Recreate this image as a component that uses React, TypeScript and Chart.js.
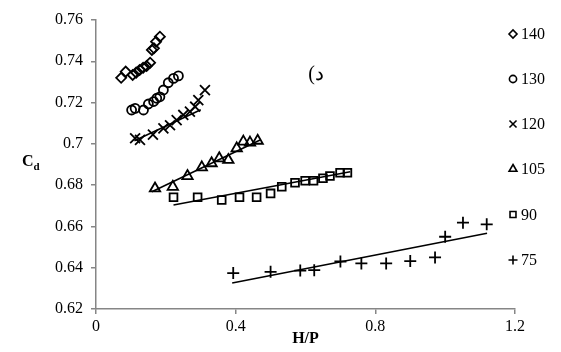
import React, { useEffect, useRef } from 'react';
import { Chart, registerables } from 'chart.js';
import { drawPoint } from 'chart.js/helpers';

Chart.register(...registerables);

const seriesNames = ['140', '130', '120', '105', '90', '75'];
const pointStyles = ['rectRot', 'circle', 'crossRot', 'triangle', 'rect', 'cross'];
const pointSizes = [5, 4.5, 7, 6, 5.5, 6];

const s140X = [0.072, 0.085, 0.105, 0.115, 0.125, 0.135, 0.145, 0.155, 0.16, 0.166, 0.172, 0.183];
const s140Y = [0.732, 0.735, 0.7334, 0.7345, 0.7358, 0.7369, 0.7377, 0.7393, 0.7455, 0.7463, 0.7495, 0.7519];

const s130X = [0.102, 0.112, 0.136, 0.15, 0.165, 0.174, 0.183, 0.193, 0.207, 0.222, 0.236];
const s130Y = [0.7164, 0.7172, 0.7164, 0.7193, 0.7205, 0.7221, 0.7228, 0.7261, 0.7296, 0.7317, 0.7329];

const s120X = [0.112, 0.126, 0.163, 0.193, 0.212, 0.231, 0.25, 0.269, 0.284, 0.293, 0.312];
const s120Y = [0.7027, 0.7019, 0.7045, 0.7075, 0.709, 0.7115, 0.714, 0.7156, 0.718, 0.7212, 0.726];

const s105X = [0.169, 0.22, 0.262, 0.303, 0.331, 0.353, 0.379, 0.403, 0.422, 0.441, 0.463];
const s105Y = [0.6784, 0.6792, 0.6844, 0.6886, 0.6906, 0.693, 0.6922, 0.6978, 0.7011, 0.7006, 0.7015];

const s90X = [0.222, 0.291, 0.36, 0.411, 0.46, 0.5, 0.532, 0.57, 0.599, 0.623, 0.65, 0.67, 0.699, 0.72];
const s90Y = [0.6741, 0.6741, 0.6728, 0.6741, 0.6741, 0.676, 0.6792, 0.6812, 0.6821, 0.6821, 0.6833, 0.6844, 0.686, 0.686];

const s75X = [0.393, 0.5, 0.585, 0.625, 0.7, 0.76, 0.831, 0.9, 0.971, 1.0, 1.051, 1.119];
const s75Y = [0.6374, 0.6380, 0.6386, 0.6388, 0.643, 0.6421, 0.6421, 0.6432, 0.645, 0.655, 0.6618, 0.661];

// trend line endpoints
const trend120X = [0.11, 0.30];
const trend120Y = [0.7015, 0.7165];
const trend105X = [0.16, 0.47];
const trend105Y = [0.6768, 0.7019];
const trend90X = [0.222, 0.728];
const trend90Y = [0.6704, 0.6865];
const trend75X = [0.39, 1.12];
const trend75Y = [0.6326, 0.6567];

const xTicks = [0, 0.4, 0.8, 1.2];
const yTicks = [0.62, 0.64, 0.66, 0.68, 0.7, 0.72, 0.74, 0.76];

const FONT = '"Liberation Serif", "Times New Roman", "DejaVu Serif", serif';

const zip = (xs: number[], ys: number[]) => xs.map((x, i) => ({ x, y: ys[i] }));

const overlayPlugin = {
  id: 'overlay',
  afterDraw(chart: any) {
    const ctx = chart.ctx;
    ctx.save();
    // legend
    const legendY = [34, 79, 124, 169, 214.5, 260];
    const legendR = [4, 3.6, 5, 4.5, 4.2, 4.5];
    seriesNames.forEach((name, i) => {
      ctx.strokeStyle = '#000';
      ctx.fillStyle = 'rgba(0,0,0,0)';
      ctx.lineWidth = 1.6;
      drawPoint(ctx, { pointStyle: pointStyles[i], radius: legendR[i], rotation: 0, borderWidth: 1.6 } as any, 513, legendY[i]);
      ctx.fillStyle = '#000';
      ctx.font = `16px ${FONT}`;
      ctx.textAlign = 'left';
      ctx.textBaseline = 'middle';
      ctx.fillText(name, 521, legendY[i] + 1);
    });
    // y title C_d
    ctx.fillStyle = '#000';
    ctx.textBaseline = 'alphabetic';
    ctx.textAlign = 'left';
    ctx.font = `bold 16px ${FONT}`;
    ctx.fillText('C', 22, 166);
    const cw = ctx.measureText('C').width;
    ctx.font = `bold 11px ${FONT}`;
    ctx.fillText('d', 22 + cw, 170);
    // annotation
    ctx.font = `20px ${FONT}`;
    ctx.textAlign = 'center';
    ctx.textBaseline = 'middle';
    ctx.fillText('(د', 316, 75);
    ctx.restore();
  },
};

export default function App() {
  const ref = useRef<HTMLCanvasElement>(null);
  useEffect(() => {
    if (!ref.current) return;
    const scatterSets = [
      [s140X, s140Y],
      [s130X, s130Y],
      [s120X, s120Y],
      [s105X, s105Y],
      [s90X, s90Y],
      [s75X, s75Y],
    ].map(([xs, ys], i) => ({
      type: 'scatter' as const,
      label: seriesNames[i],
      data: zip(xs, ys),
      pointStyle: pointStyles[i],
      pointRadius: pointSizes[i],
      pointBorderWidth: 1.8,
      pointBorderColor: '#000',
      pointBackgroundColor: 'rgba(0,0,0,0)',
      showLine: false,
      order: 1,
    }));
    const trendSets = [
      [trend120X, trend120Y],
      [trend105X, trend105Y],
      [trend90X, trend90Y],
      [trend75X, trend75Y],
    ].map(([xs, ys]) => ({
      type: 'scatter' as const,
      label: 'trend',
      data: zip(xs, ys),
      showLine: true,
      borderColor: '#000',
      borderWidth: 1.6,
      pointRadius: 0,
      order: 2,
    }));
    const chart = new Chart(ref.current, {
      type: 'scatter',
      data: { datasets: [...scatterSets, ...trendSets] as any },
      options: {
        animation: false,
        responsive: false,
        devicePixelRatio: 1,
        layout: { padding: { left: 0, right: 46, top: 20, bottom: 0 } },
        plugins: { legend: { display: false }, tooltip: { enabled: false } },
        scales: {
          x: {
            type: 'linear',
            min: 0,
            max: 1.2,
            afterBuildTicks: (scale: any) => {
              scale.ticks = xTicks.map((v) => ({ value: v }));
            },
            afterFit: (scale: any) => {
              scale.height = 43;
            },
            grid: { drawOnChartArea: false, drawTicks: true, tickLength: 5, color: '#868686', lineWidth: 1.5 },
            border: { color: '#868686', width: 1.5 },
            ticks: {
              color: '#000',
              font: { family: FONT, size: 16 },
              padding: 3,
              maxRotation: 0,
              callback: (v: any) => String(Number(Number(v).toFixed(2))),
            },
            title: {
              display: true,
              text: 'H/P',
              color: '#000',
              font: { family: FONT, size: 16, weight: 'bold' },
              padding: { top: 0, bottom: 4 },
            },
          },
          y: {
            type: 'linear',
            min: 0.62,
            max: 0.76,
            afterBuildTicks: (scale: any) => {
              scale.ticks = yTicks.map((v) => ({ value: v }));
            },
            afterFit: (scale: any) => {
              scale.width = 96;
            },
            grid: { drawOnChartArea: false, drawTicks: true, tickLength: 5, color: '#868686', lineWidth: 1.5 },
            border: { color: '#868686', width: 1.5 },
            ticks: {
              color: '#000',
              font: { family: FONT, size: 16 },
              padding: 8,
              callback: (v: any) => String(Number(Number(v).toFixed(2))),
            },
          },
        },
      },
      plugins: [overlayPlugin],
    });
    return () => chart.destroy();
  }, []);
  return (
    <div style={{ position: 'absolute', left: 0, top: 0, width: 561, height: 352, background: '#fff' }}>
      <canvas ref={ref} width={561} height={352} style={{ width: 561, height: 352 }} />
    </div>
  );
}
